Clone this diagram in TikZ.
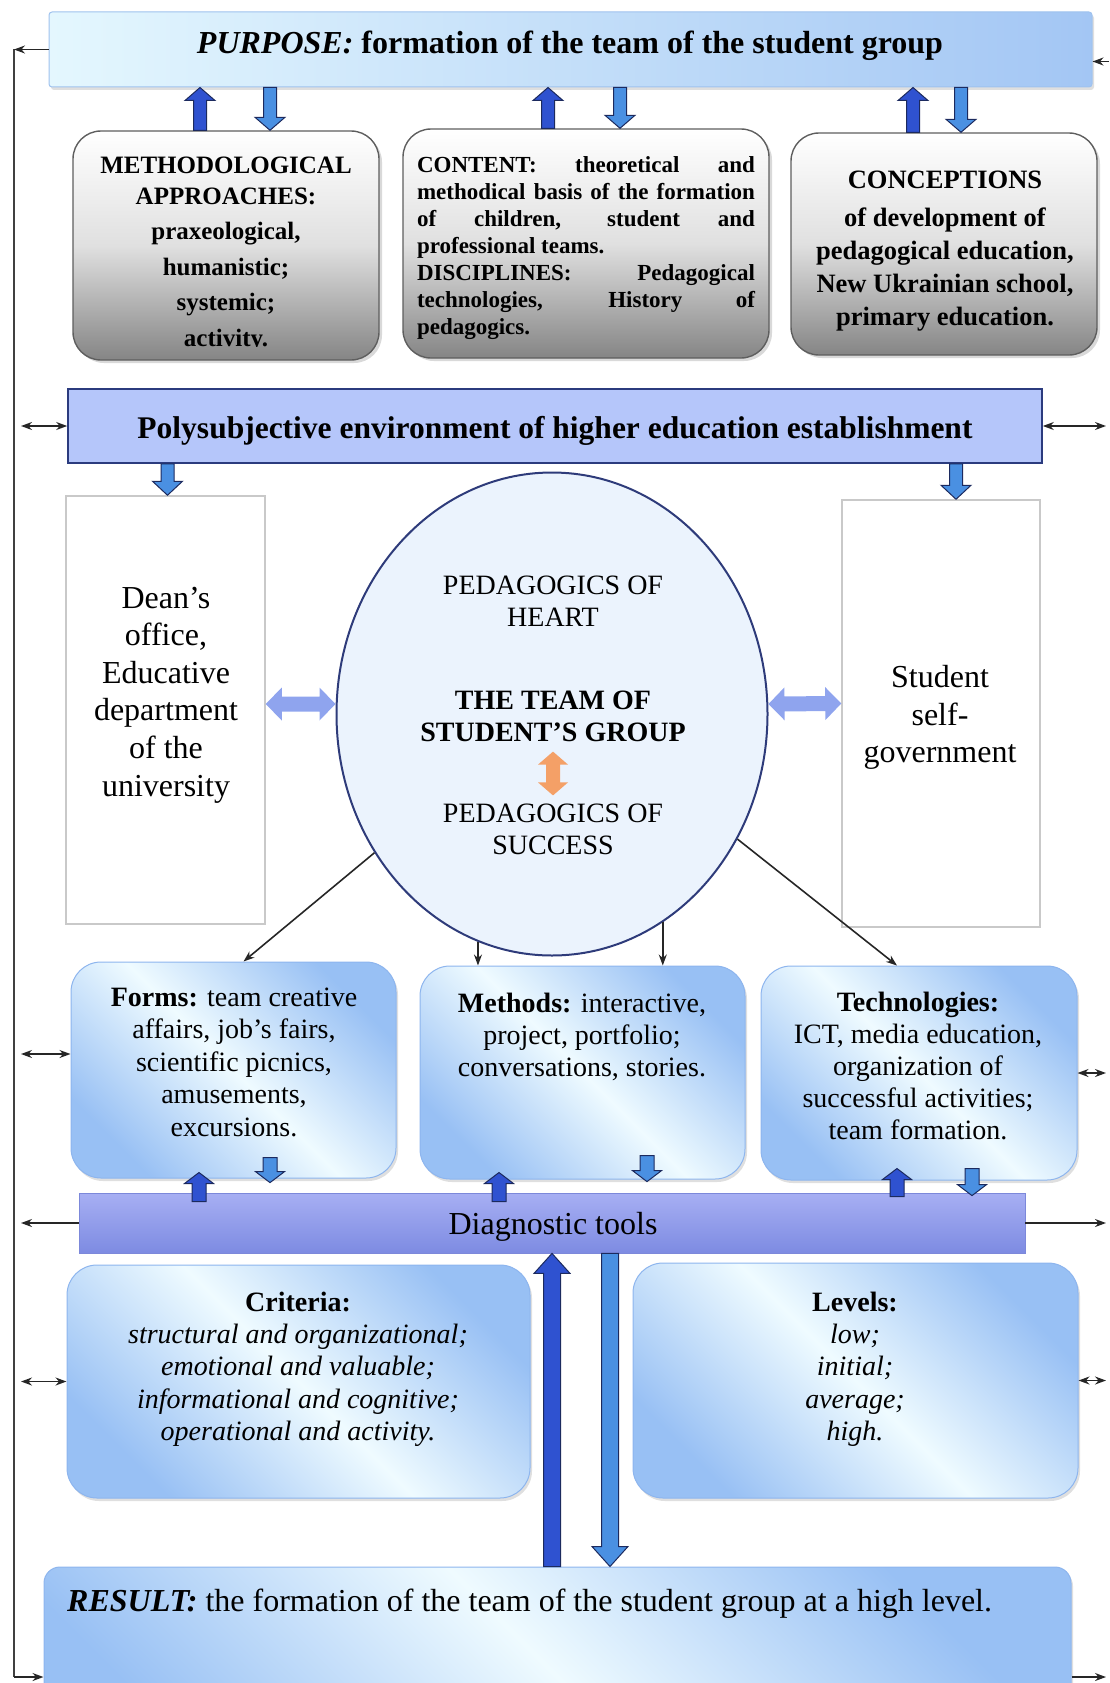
\documentclass[tikz,border=0pt]{standalone}
\usepackage{fontspec}
\setmainfont{Liberation Serif}
\usetikzlibrary{arrows.meta,calc,shadows,shapes.geometric}

\definecolor{updark}{HTML}{2F52D0}
\definecolor{dnlight}{HTML}{4A90E2}
\definecolor{blkedge}{HTML}{1C2A5E}
\definecolor{grayedge}{HTML}{5E5E5E}
\definecolor{graymid}{HTML}{E0E0E0}
\definecolor{graybot}{HTML}{858585}
\definecolor{bluecorner}{HTML}{98C0F4}
\definecolor{bluelight}{HTML}{EFFBFF}
\definecolor{blueedge}{HTML}{8DB5EE}
\definecolor{polyfill}{HTML}{B5C6FA}
\definecolor{polyedge}{HTML}{2B3B7E}
\definecolor{diagtop}{HTML}{A7AFF3}
\definecolor{diagbot}{HTML}{7D8BE2}
\definecolor{diagedge}{HTML}{7C88DA}
\definecolor{sideedge}{HTML}{C9C9C9}
\definecolor{teamfill}{HTML}{EBF3FD}
\definecolor{teamedge}{HTML}{2E3B7A}
\definecolor{sideblue}{HTML}{8FA4EE}
\definecolor{orangeblk}{HTML}{F4A067}
\definecolor{purpleft}{HTML}{E4F7FE}
\definecolor{purpright}{HTML}{A3C6F4}
\definecolor{purpedge}{HTML}{9FC2EE}

\newcommand{\fsz}[2]{\fontsize{#1}{#2}\selectfont}

\tikzset{
  blkw/.store in=\blkw, blkhw/.store in=\blkhw, blkhl/.store in=\blkhl,
  blkw=6.5pt, blkhw=15pt, blkhl=13pt,
  arr/.style={-{Stealth[length=11pt,width=8pt]}, line width=1.6pt, draw=black!85},
  darr/.style={{Stealth[length=11pt,width=8pt]}-{Stealth[length=11pt,width=8pt]}, line width=1.6pt, draw=black!85},
  txt/.style={align=center, inner sep=0pt},
  purposebox/.style={rectangle, rounded corners=3pt, draw=purpedge, line width=1pt,
    left color=purpleft, right color=purpright, inner sep=0pt,
    drop shadow={shadow xshift=2pt, shadow yshift=-3pt, opacity=.25}},
  graybox/.style={rectangle, rounded corners=28pt, draw=grayedge, line width=1.4pt,
    top color=white, bottom color=graybot, middle color=graymid, inner sep=0pt,
    drop shadow={shadow xshift=3pt, shadow yshift=-3pt, opacity=.3}},
  bluebox/.style={rectangle, rounded corners=30pt, draw=blueedge, line width=1pt,
    top color=bluecorner, bottom color=bluecorner, middle color=bluelight,
    shading angle=-45, inner sep=0pt,
    drop shadow={shadow xshift=2pt, shadow yshift=-3pt, opacity=.25}},
  sidebox/.style={rectangle, draw=sideedge, line width=1.5pt, fill=white, inner sep=0pt},
  polybox/.style={rectangle, fill=polyfill, draw=polyedge, line width=1.6pt, inner sep=0pt},
  diagbox/.style={rectangle, top color=diagtop, bottom color=diagbot, draw=diagedge,
    line width=.8pt, inner sep=0pt},
  upblk/.style={fill=updark, draw=blkedge, line width=1pt},
  dnblk/.style={fill=dnlight, draw=blkedge, line width=1pt},
  smallblk/.style={blkw=7pt, blkhw=14.5pt, blkhl=11pt},
  bigblk/.style={blkw=8.5pt, blkhw=18pt, blkhl=20pt},
  sideblk/.style={fill=sideblue, draw=none, blkw=7.5pt, blkhw=16.5pt, blkhl=16pt},
  orblk/.style={fill=orangeblk, draw=none, blkw=7pt, blkhw=15pt, blkhl=13pt}
}

\newcommand{\vblock}[4]{%
  \path let \p1=#2, \p2=#3, \p3=#4 in
    coordinate (vbt) at (\x1,\y2) coordinate (vbh) at (\x1,\y3);
  \draw[#1] ($(vbt)!\blkw!90:(vbh)$) -- ($(vbh)!\blkhl!(vbt)!\blkw!-90:(vbt)$)
    -- ($(vbh)!\blkhl!(vbt)!\blkhw!-90:(vbt)$) -- (vbh)
    -- ($(vbh)!\blkhl!(vbt)!\blkhw!90:(vbt)$)
    -- ($(vbh)!\blkhl!(vbt)!\blkw!90:(vbt)$)
    -- ($(vbt)!\blkw!-90:(vbh)$) -- cycle;
}
\newcommand{\dblock}[3]{%
  \path #2 coordinate (dba) #3 coordinate (dbb);
  \draw[#1] (dba) -- ($(dba)!\blkhl!(dbb)!\blkhw!90:(dbb)$)
    -- ($(dba)!\blkhl!(dbb)!\blkw!90:(dbb)$)
    -- ($(dbb)!\blkhl!(dba)!\blkw!-90:(dba)$)
    -- ($(dbb)!\blkhl!(dba)!\blkhw!-90:(dba)$) -- (dbb)
    -- ($(dbb)!\blkhl!(dba)!\blkhw!90:(dba)$)
    -- ($(dbb)!\blkhl!(dba)!\blkw!90:(dba)$)
    -- ($(dba)!\blkhl!(dbb)!\blkw!-90:(dbb)$)
    -- ($(dba)!\blkhl!(dbb)!\blkhw!-90:(dbb)$) -- cycle;
}

\begin{document}
\begin{tikzpicture}[x=1pt,y=-1pt]
\clip (0,0) rectangle (1109,1683);
\coordinate (lline) at (14,0);
\coordinate (lin) at (21,0);
\coordinate (rline) at (1109,0);
\coordinate (rin) at (1106,0);

\node[purposebox, minimum width=1043, minimum height=75] (purpose) at (570.5,49.5) {};
\node[txt, font=\fsz{32}{38}\bfseries] (purposetxt) at (570,46)
  {\textit{PURPOSE:} formation of the team of the student group};

\node[graybox, minimum width=306, minimum height=229] (meth) at (226,245.5) {};
\node[graybox, minimum width=366, minimum height=229] (content) at (586,243.5) {};
\node[graybox, minimum width=306, minimum height=222] (concept) at (944,244) {};
\begin{scope}
  \clip (meth.north west) rectangle ([yshift=14pt]meth.south east);
  \node[txt, font=\fsz{25}{35.5}\bfseries] (methtxt) at (226,254)
    {METHODOLOGICAL\\[-4.5pt]APPROACHES:\\praxeological,\\humanistic;\\systemic;\\activity.};
\end{scope}
\node[inner sep=0pt, text width=338, align=justify, font=\fsz{23}{27}\bfseries] (contenttxt) at (586,248)
  {\hyphenpenalty=10000\relax CONTENT: theoretical and methodical basis of the formation of children, student and professional teams.\par
   DISCIPLINES: Pedagogical technologies, History of pedagogics.\par};
\node[txt, font=\fsz{26.5}{33}\bfseries] (concepttxt) at (945,251)
  {CONCEPTIONS\\[5pt]of development of\\pedagogical education,\\New Ukrainian school,\\primary education.};

\node[polybox, minimum width=974, minimum height=74] (poly) at (555,426) {};
\node[txt, font=\fsz{31.5}{38}\bfseries] (polytxt) at (555,431)
  {Polysubjective environment of higher education establishment};

\node[sidebox, minimum width=199, minimum height=428] (dean) at (165.5,710) {};
\node[txt, font=\fsz{32}{37.6}] (deantxt) at (166,695)
  {Dean’s\\office,\\Educative\\department\\of the\\university};
\node[sidebox, minimum width=198, minimum height=427] (student) at (941,713.5) {};
\node[txt, font=\fsz{32}{37.5}] (studenttxt) at (940,717.5) {Student\\self-\\government};

\node[ellipse, draw=teamedge, fill=teamfill, line width=2pt, minimum width=431, minimum height=483,
  inner sep=0pt] (team) at (552,714) {};
\node[txt, font=\fsz{28}{32}] (hearttxt) at (553,601) {PEDAGOGICS OF\\HEART};
\node[txt, font=\fsz{28}{32}\bfseries] (teamtxt) at (553,716) {THE TEAM OF\\STUDENT’S GROUP};
\node[txt, font=\fsz{28}{32}] (succtxt) at (553,829) {PEDAGOGICS OF\\SUCCESS};

\node[bluebox, minimum width=325, minimum height=216] (forms) at (233.5,1070) {};
\node[bluebox, minimum width=325, minimum height=213] (methods) at (582.5,1072.5) {};
\node[bluebox, minimum width=316, minimum height=214] (techn) at (919,1073) {};
\node[txt, font=\fsz{28}{32.5}] (formstxt) at (234,1062)
  {\textbf{Forms:} team creative\\affairs, job’s fairs,\\scientific picnics,\\amusements,\\excursions.};
\node[txt, font=\fsz{28}{32}] (methodstxt) at (582,1037)
  {\textbf{Methods:} interactive,\\project, portfolio;\\conversations, stories.};
\node[txt, font=\fsz{28}{32}] (techntxt) at (918,1066)
  {\textbf{Technologies:}\\ICT, media education,\\organization of\\successful activities;\\team formation.};

\node[diagbox, minimum width=946, minimum height=60] (diag) at (552,1223) {};
\node[txt, font=\fsz{32}{38}] (diagtxt) at (553,1227) {Diagnostic tools};

\node[bluebox, minimum width=463, minimum height=233] (criteria) at (298.5,1381.5) {};
\node[bluebox, minimum width=445, minimum height=235] (levels) at (855.5,1380.5) {};
\node[txt, font=\fsz{28}{32.3}] (criteriatxt) at (298,1369)
  {\textbf{Criteria:}\\\textit{structural and organizational;}\\\textit{emotional and valuable;}\\
   \textit{informational and cognitive;}\\\textit{operational and activity.}};
\node[txt, font=\fsz{28}{32.3}] (levelstxt) at (855,1369)
  {\textbf{Levels:}\\\textit{low;}\\\textit{initial;}\\\textit{average;}\\\textit{high.}};

\node[bluebox, rounded corners=16pt, minimum width=1027, minimum height=220] (result) at (557.5,1677) {};
\node[txt, anchor=west, font=\fsz{32}{38}] (resulttxt) at (67,1604)
  {\textbf{\textit{RESULT:}} the formation of the team of the student group at a high level.};

\vblock{upblk}{([xshift=-26pt]meth.north)}{(meth.north)}{(purpose.south)}
\vblock{dnblk}{([xshift=44pt]meth.north)}{(purpose.south)}{(meth.north)}
\vblock{upblk}{([xshift=-38pt]content.north)}{(content.north)}{(purpose.south)}
\vblock{dnblk}{([xshift=34pt]content.north)}{(purpose.south)}{(content.north)}
\vblock{upblk}{([xshift=-31pt]concept.north)}{(concept.north)}{(purpose.south)}
\vblock{dnblk}{([xshift=17pt]concept.north)}{(purpose.south)}{(concept.north)}

\vblock{dnblk,blkhl=14pt}{([xshift=2pt]dean.north)}{(poly.south)}{(dean.north)}
\vblock{dnblk,blkhl=14pt}{([xshift=15pt]student.north)}{(poly.south)}{(student.north)}

\dblock{sideblk}{([yshift=6pt]dean.east)}{([yshift=10pt]team.west)}
\dblock{sideblk}{([yshift=10pt]team.east)}{([yshift=10pt]student.west)}
\dblock{orblk}{([yshift=-10pt]teamtxt.south)}{([yshift=8pt]succtxt.north)}

\draw[arr] (team.218) -- ([xshift=10pt]forms.north);
\draw[arr] (team.252) -- (team.252 |- methods.north);
\draw[arr] (team.298) -- (team.298 |- methods.north);
\draw[arr] (team.326) -- ([xshift=-22pt]techn.north);

\vblock{upblk,smallblk}{([xshift=-34.5pt]forms.south)}{([yshift=-9pt]diag.north)}{([yshift=6pt]forms.south)}
\vblock{dnblk,smallblk}{([xshift=36.5pt]forms.south)}{([yshift=21pt]forms.south)}{([yshift=10pt]diag.north)}
\vblock{upblk,smallblk}{([xshift=-83.5pt]methods.south)}{([yshift=-9pt]diag.north)}{([yshift=7pt]methods.south)}
\vblock{dnblk,smallblk}{([xshift=64.5pt]methods.south)}{([yshift=24pt]methods.south)}{([yshift=11pt]diag.north)}
\vblock{upblk,smallblk}{([xshift=-22pt]techn.south)}{([yshift=-4pt]diag.north)}{([yshift=12pt]techn.south)}
\vblock{dnblk,smallblk}{([xshift=53pt]techn.south)}{([yshift=12pt]techn.south)}{([yshift=-3pt]diag.north)}

\vblock{upblk,bigblk}{(diag.south)}{(result.north)}{(diag.south)}
\vblock{dnblk,bigblk}{([xshift=58pt]diag.south)}{(diag.south)}{(result.north)}

\draw[line width=1.5pt, draw=black!75] (lline |- purpose.west) -- (lline |- result.west);
\draw[arr] (purpose.west) -- (lline |- purpose.west);
\draw[darr] (lin |- poly.west) -- (poly.west);
\draw[darr] ($(lin |- forms.west)+(0,-16)$) -- ($(forms.west)+(0,-16)$);
\draw[arr] (diag.west) -- (lin |- diag.west);
\draw[darr] (lin |- criteria.west) -- (criteria.west);
\draw[arr] (lline |- result.west) -- (result.west);

\draw[arr] ($(rline |- purpose.east)+(0,12)$) -- ($(purpose.east)+(0,12)$);
\draw[darr] (poly.east) -- (rin |- poly.east);
\draw[darr] (techn.east) -- (rin |- techn.east);
\draw[arr] (diag.east) -- (rin |- diag.east);
\draw[darr] (levels.east) -- (rin |- levels.east);
\draw[arr] (result.east) -- (rin |- result.east);
\end{tikzpicture}
\end{document}
